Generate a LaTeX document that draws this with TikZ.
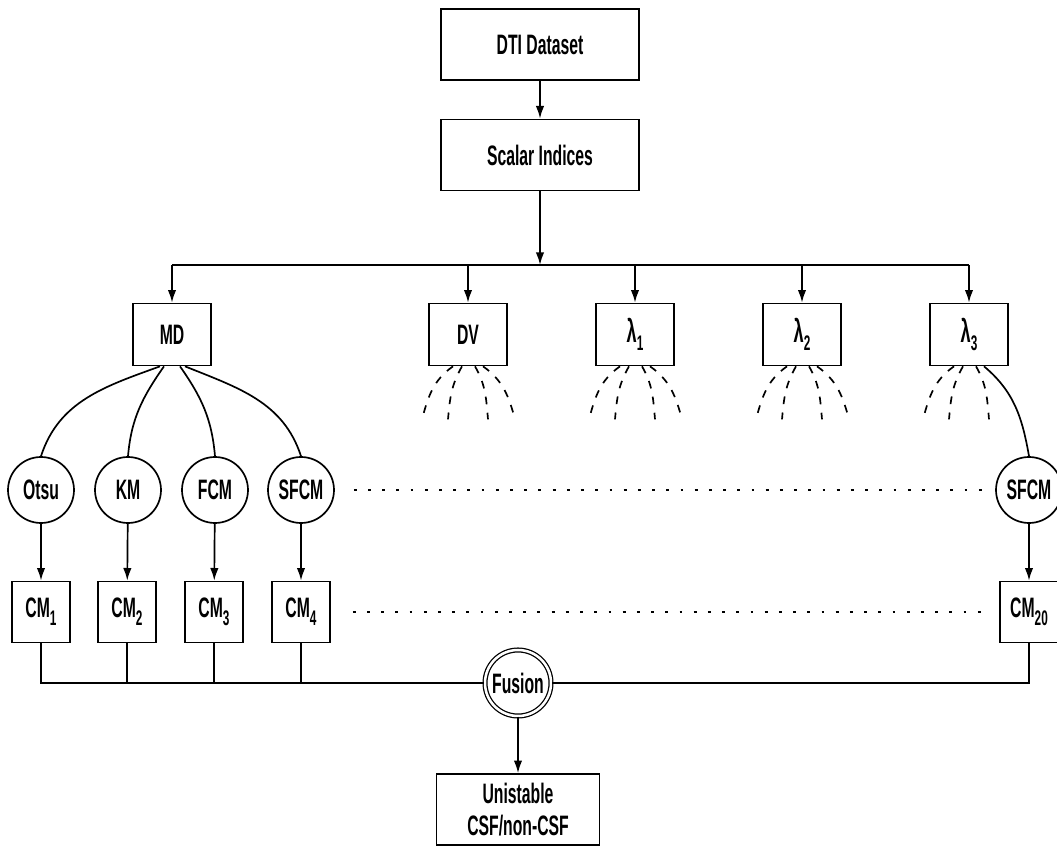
\documentclass[tikz,border=0pt]{standalone}
\usepackage{fontspec}
\setmainfont{Liberation Sans}[FakeStretch=0.56]
\usetikzlibrary{arrows.meta,calc}

\newcommand{\lbl}{\fontsize{20}{23}\selectfont\bfseries}
\newcommand{\idx}[1]{\raisebox{-0.55ex}{\fontsize{15}{15}\selectfont #1}}
\newcommand{\lam}{{\fontsize{23}{23}\selectfont λ}}

\tikzset{
  flow/.style={line width=1.2pt},
  arr/.style={flow, -{Latex[length=9pt,width=6pt]}},
  blk/.style={draw, flow, inner sep=0pt, font=\lbl, align=center},
  bigbox/.style={blk, minimum width=198*0.025cm, minimum height=71*0.025cm},
  idxbox/.style={blk, minimum width=78*0.025cm, minimum height=62*0.025cm},
  cmbox/.style={blk, minimum width=58*0.025cm, minimum height=61*0.025cm},
  algo/.style={blk, circle, minimum size=66*0.025cm},
  fan/.style={flow, dash pattern=on 5.5pt off 6pt},
  dots/.style={line width=2pt, dash pattern=on 2pt off 8.1pt}
}

\begin{document}
\begin{tikzpicture}[x=0.025cm, y=0.025cm]
    \useasboundingbox (0,0) rectangle (1057,-846);

    % top of the chain
    \node[bigbox] (dti) at (540,-44.5) {DTI Dataset};
    \node[bigbox] (scalar) at (540,-155) {Scalar Indices};
    \draw[arr] (dti) -- (scalar);

    % scalar indices
    \node[idxbox] (md) at (172,-334.5) {MD};
    \node[idxbox] (dv) at (468,-334.5) {DV};
    \node[idxbox] (l1) at (635,-334.5) {\lam\idx{1}};
    \node[idxbox] (l2) at (802,-334.5) {\lam\idx{2}};
    \node[idxbox] (l3) at (969,-334.5) {\lam\idx{3}};

    \coordinate (bus) at (540,-265);
    \draw[arr] (scalar) -- (bus);
    \draw[flow] (md.north |- bus) -- (l3.north |- bus);
    \foreach \n in {md,dv,l1,l2,l3}
        \draw[arr] (\n.north |- bus) -- (\n.north);

    % clustering methods
    \node[algo] (otsu) at (41,-490) {Otsu};
    \node[algo] (km) at (128,-490) {KM};
    \node[algo] (fcm) at (215,-490) {FCM};
    \node[algo] (sfcm) at (301,-490) {SFCM};
    \node[algo] (sfcmr) at (1029,-490) {SFCM};

    \draw[flow] ($(md.south)+(-12,0)$) to[out=200,in=72] (otsu.north);
    \draw[flow] ($(md.south)+(-8,0)$) to[out=235,in=85] (km.north);
    \draw[flow] ($(md.south)+(8,0)$) to[out=-55,in=95] (fcm.north);
    \draw[flow] ($(md.south)+(13,0)$) to[out=-22,in=108] (sfcm.north);

    % branches that are not drawn out
    \foreach \n in {dv,l1,l2,l3} {
        \draw[fan] ($(\n.south)+(-15,0)$) to[out=215,in=75] ($(\n.south)+(-46,-53)$);
        \draw[fan] ($(\n.south)+(-6,0)$) to[out=240,in=85] ($(\n.south)+(-20,-53)$);
        \draw[fan] ($(\n.south)+(7,0)$) to[out=-60,in=95] ($(\n.south)+(20,-53)$);
    }
    \foreach \n in {dv,l1,l2}
        \draw[fan] ($(\n.south)+(15,0)$) to[out=-35,in=105] ($(\n.south)+(47,-53)$);
    \draw[flow] ($(l3.south)+(15,0)$) to[out=-40,in=100] (sfcmr.north);

    % clustering maps
    \node[cmbox] (cm1) at (41,-612) {CM\idx{1}};
    \node[cmbox] (cm2) at (127,-612) {CM\idx{2}};
    \node[cmbox] (cm3) at (214,-612) {CM\idx{3}};
    \node[cmbox] (cm4) at (301,-612) {CM\idx{4}};
    \node[cmbox] (cm20) at (1029,-612) {CM\idx{20}};

    \draw[arr] (otsu) -- (cm1);
    \draw[arr] (km) -- (cm2);
    \draw[arr] (fcm) -- (cm3);
    \draw[arr] (sfcm) -- (cm4);
    \draw[arr] (sfcmr) -- (cm20);

    \draw[dots] ($(sfcm.east)+(19,0)$) -- ($(sfcmr.west)+(-13,0)$);
    \draw[dots] ($(cm4.east)+(22,0)$) -- ($(cm20.west)+(-16,0)$);

    % fusion
    \node[algo, double, double distance=1.8pt, line width=0.9pt] (fusion) at (518,-683) {Fusion};
    \draw[flow] (cm1.south) |- (fusion.west);
    \draw[flow] (cm20.south) |- (fusion.east);
    \foreach \n in {cm2,cm3,cm4}
        \draw[flow] (\n.south) -- (\n.south |- fusion.west);

    \node[blk, minimum width=163*0.025cm, minimum height=71*0.025cm] (result) at (518,-809.5) {Unistable\\CSF/non-CSF};
    \draw[arr] (fusion) -- (result);
\end{tikzpicture}
\end{document}
